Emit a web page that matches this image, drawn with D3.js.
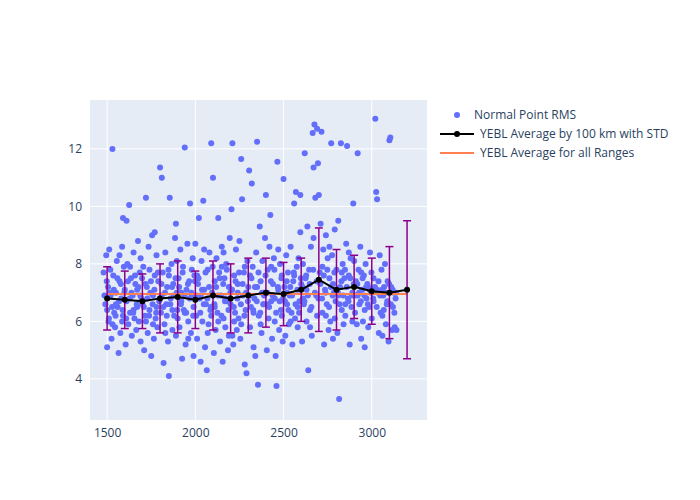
<!DOCTYPE html>
<html lang="en">
<head>
<meta charset="UTF-8">
<title>YEBL RMS</title>
<style>
  body,html{margin:0;padding:0;background:#fff;font-family:"Open Sans",Arial,sans-serif;}
</style>
</head>
<body>
<svg id="svg" width="700" height="500"></svg>
<script src="https://cdnjs.cloudflare.com/ajax/libs/d3/7.8.5/d3.min.js"></script>
<script>
// normal point RMS, [range km, rms]
var points = [
 [1480,7.7],[1490,6.6],[1495,8.3],[1500,5.1],[1505,7.2],[1510,6.1],[1512,8.5],[1520,6.9],[1525,5.4],[1530,12.0],[1535,7.6],[1540,6.3],[1545,5.8],[1550,7.0],[1555,8.1],[1560,6.5],[1565,4.9],[1570,7.4],[1575,5.6],[1580,6.8],[1585,8.6],[1590,6.2],[1595,7.9],[1500,6.4],[1515,7.0],[1530,5.9],[1550,6.6],[1570,8.3],[1585,6.0],[1590,9.6],
 [1600,7.1],[1605,5.2],[1610,6.7],[1615,8.0],[1620,5.9],[1625,10.05],[1630,6.3],[1635,7.5],[1640,5.5],[1645,6.9],[1650,8.4],[1655,6.1],[1660,7.3],[1665,5.7],[1670,6.5],[1675,8.8],[1680,6.0],[1685,7.7],[1690,5.3],[1695,6.8],[1610,9.5],[1630,7.9],[1650,6.4],[1670,7.1],[1690,8.2],
 [1700,6.6],[1705,7.9],[1710,5.0],[1715,6.2],[1720,10.3],[1725,7.2],[1730,5.6],[1735,8.6],[1740,6.4],[1745,7.0],[1750,4.8],[1755,9.0],[1760,6.9],[1765,5.4],[1770,7.6],[1775,6.1],[1780,8.3],[1785,5.8],[1790,7.4],[1795,6.7],[1720,6.0],[1740,7.8],[1760,5.9],[1780,6.5],[1770,9.1],
 [1800,11.35],[1805,6.3],[1810,11.0],[1815,7.7],[1820,4.55],[1825,5.9],[1830,8.4],[1835,6.6],[1840,7.2],[1845,5.3],[1850,4.1],[1855,10.3],[1860,6.8],[1865,8.0],[1870,5.7],[1875,7.3],[1880,6.2],[1885,8.9],[1890,5.5],[1895,7.0],[1810,6.9],[1830,5.6],[1850,7.6],[1870,6.4],[1890,9.4],[1895,8.1],
 [1900,6.1],[1905,7.5],[1910,5.8],[1915,8.5],[1920,6.7],[1925,4.7],[1930,7.9],[1935,6.4],[1940,12.05],[1945,5.2],[1950,7.1],[1955,8.7],[1960,6.0],[1965,7.4],[1970,10.1],[1975,5.6],[1980,6.9],[1985,8.2],[1990,4.8],[1995,7.6],[1920,7.0],[1940,6.3],[1960,5.4],[1980,7.8],[1990,6.5],
 [2000,8.7],[2005,6.2],[2010,5.4],[2015,7.3],[2020,9.6],[2025,6.8],[2030,4.6],[2035,8.1],[2040,6.0],[2045,10.2],[2050,7.1],[2055,5.1],[2060,6.6],[2065,4.3],[2070,7.8],[2075,5.9],[2080,8.4],[2085,6.4],[2090,12.2],[2095,7.0],[2010,7.6],[2030,6.9],[2050,8.5],[2070,5.6],[2090,6.2],[2100,11.0],
 [2105,4.9],[2110,7.4],[2115,5.7],[2120,8.2],[2125,6.3],[2130,9.6],[2135,7.7],[2140,5.3],[2145,6.9],[2150,8.6],[2155,4.6],[2160,6.1],[2165,7.5],[2170,5.8],[2175,8.0],[2180,6.7],[2185,5.0],[2190,7.2],[2195,8.9],[2110,6.5],[2130,6.0],[2150,7.9],[2170,6.8],[2190,5.5],[2160,8.4],
 [2200,6.6],[2205,9.9],[2210,12.2],[2215,5.2],[2220,7.6],[2225,6.3],[2230,8.5],[2235,5.7],[2240,7.0],[2245,6.1],[2250,8.8],[2255,5.4],[2260,11.65],[2265,10.25],[2270,6.9],[2275,7.7],[2280,4.5],[2285,6.4],[2290,4.2],[2295,8.1],[2220,6.0],[2240,7.3],[2260,5.9],[2280,7.9],[2210,5.5],
 [2300,7.2],[2305,11.25],[2310,5.8],[2315,6.5],[2320,10.8],[2325,7.9],[2330,5.1],[2335,6.8],[2340,4.8],[2345,8.4],[2350,12.25],[2355,3.8],[2360,6.2],[2365,9.3],[2370,7.4],[2375,5.6],[2380,8.1],[2385,6.6],[2390,7.0],[2395,8.9],[2310,7.6],[2330,6.3],[2350,7.2],[2370,5.9],[2390,6.9],
 [2400,10.4],[2405,5.0],[2410,7.8],[2415,6.1],[2420,8.6],[2425,9.7],[2430,6.7],[2435,5.4],[2440,7.3],[2445,8.2],[2450,6.0],[2455,4.8],[2460,3.75],[2465,11.55],[2470,7.1],[2475,5.7],[2480,8.0],[2485,6.4],[2490,7.6],[2495,5.3],[2410,6.6],[2430,7.9],[2450,6.8],[2470,8.5],[2490,6.2],
 [2500,10.95],[2505,7.2],[2510,5.5],[2515,8.3],[2520,6.6],[2525,7.7],[2530,5.9],[2535,6.9],[2540,8.6],[2545,6.3],[2550,5.2],[2555,7.4],[2560,10.1],[2565,6.1],[2570,10.5],[2575,7.9],[2580,5.8],[2585,8.2],[2590,6.7],[2595,10.4],[2520,7.0],[2540,6.0],[2560,7.6],[2580,6.5],[2595,9.1],
 [2600,7.3],[2605,5.3],[2610,8.0],[2615,6.6],[2620,11.85],[2625,7.5],[2630,6.0],[2635,9.3],[2640,4.3],[2645,7.8],[2650,6.4],[2655,8.6],[2660,5.5],[2665,12.55],[2670,11.35],[2675,12.85],[2680,10.3],[2685,6.9],[2690,12.7],[2695,11.5],[2610,6.8],[2630,7.1],[2650,5.8],[2670,8.9],[2690,6.2],
 [2700,10.4],[2705,7.7],[2710,9.4],[2715,12.6],[2720,6.3],[2725,8.5],[2730,5.2],[2735,7.1],[2740,9.0],[2745,6.6],[2750,8.2],[2755,5.7],[2760,7.5],[2765,6.0],[2770,12.2],[2775,8.3],[2780,5.4],[2785,7.0],[2790,9.2],[2795,6.7],[2720,7.9],[2740,6.2],[2760,8.6],[2780,7.3],[2790,6.1],
 [2800,7.8],[2805,5.6],[2810,9.5],[2815,3.3],[2820,7.2],[2825,12.2],[2830,6.4],[2835,8.0],[2840,5.9],[2845,7.5],[2850,6.2],[2855,8.7],[2860,12.1],[2865,6.8],[2870,7.6],[2875,5.2],[2880,8.2],[2885,6.5],[2890,7.0],[2895,10.1],[2810,6.9],[2830,7.7],[2850,6.6],[2870,8.4],[2890,6.0],
 [2900,8.1],[2905,6.3],[2910,7.4],[2915,5.9],[2920,11.85],[2925,7.8],[2930,6.6],[2935,8.6],[2940,5.4],[2945,7.1],[2950,6.0],[2955,7.6],[2960,5.1],[2965,8.0],[2970,6.8],[2975,7.3],[2980,5.8],[2985,6.5],[2990,8.4],[2995,7.0],[2920,6.9],[2940,7.7],[2960,6.4],[2980,7.2],
 [3000,6.1],[3010,7.5],[3020,13.05],[3025,10.5],[3030,10.25],[3035,7.0],[3040,5.6],[3045,8.3],[3050,6.3],[3055,7.8],[3060,5.5],[3065,6.9],[3070,7.2],[3075,8.0],[3080,5.9],[3085,6.6],[3090,7.4],[3095,5.3],[3010,6.7],[3030,7.1],[3060,6.2],
 [3100,12.3],[3105,12.4],[3110,7.2],[3115,5.7],[3120,6.5],[3125,7.0],[3130,5.8],[3135,6.8],[3140,5.7]
];
// extra points in the dense core
var corePoints = [
 [1485,6.9],[1498,7.4],[1508,6.0],[1518,7.8],[1528,6.5],[1538,7.1],[1548,6.2],[1558,7.5],[1568,6.7],[1578,7.3],[1588,6.4],[1598,7.0],
 [1608,6.1],[1618,7.4],[1628,6.8],[1638,7.0],[1648,6.3],[1658,7.6],[1668,6.6],[1678,7.2],[1688,6.9],[1698,7.5],
 [1708,6.5],[1718,7.3],[1728,6.8],[1738,6.2],[1748,7.4],[1758,6.6],[1768,7.1],[1778,6.3],[1788,7.7],[1798,6.8],
 [1808,7.3],[1818,6.5],[1828,7.0],[1838,6.2],[1848,7.8],[1858,6.6],[1868,7.2],[1878,6.9],[1888,7.5],[1898,6.4],
 [1908,7.2],[1918,6.6],[1928,7.7],[1938,6.9],[1948,6.3],[1958,7.3],[1968,6.8],[1978,7.0],[1988,6.2],[1998,7.4],
 [2008,6.9],[2018,7.5],[2028,6.3],[2038,7.1],[2048,6.6],[2058,7.7],[2068,6.8],[2078,7.2],[2088,6.5],[2098,7.9],
 [2108,6.6],[2118,7.2],[2128,6.9],[2138,7.5],[2148,6.2],[2158,7.3],[2168,6.7],[2178,7.8],[2188,6.4],[2198,7.0],
 [2208,7.1],[2218,6.5],[2228,7.4],[2238,6.8],[2248,7.7],[2258,6.6],[2268,7.3],[2278,6.2],[2288,7.0],[2298,6.7],
 [2308,6.9],[2318,7.5],[2328,6.4],[2338,7.2],[2348,6.7],[2358,7.7],[2368,6.3],[2378,7.0],[2388,6.6],[2398,7.6],
 [2408,7.0],[2418,6.5],[2428,7.4],[2438,6.9],[2448,7.8],[2458,6.3],[2468,7.2],[2478,6.7],[2488,7.5],[2498,6.8],
 [2508,6.7],[2518,7.4],[2528,6.4],[2538,7.2],[2548,6.9],[2558,7.7],[2568,6.6],[2578,7.1],[2588,6.3],[2598,7.5],
 [2608,7.2],[2618,6.7],[2628,7.6],[2638,6.9],[2648,7.3],[2658,6.5],[2668,7.8],[2678,7.0],[2688,7.4],[2698,6.8],
 [2708,7.3],[2718,6.8],[2728,7.6],[2738,7.0],[2748,7.8],[2758,6.5],[2768,7.2],[2778,6.9],[2788,7.7],[2798,7.1],
 [2808,7.0],[2818,6.6],[2828,7.4],[2838,6.9],[2848,7.8],[2858,7.2],[2868,6.7],[2878,7.5],[2888,6.9],[2898,7.3],
 [2908,6.9],[2918,7.3],[2928,7.0],[2938,6.7],[2948,7.5],[2958,6.9],[2968,7.2],[2978,6.6],[2988,7.1],[2998,7.7],
 [3008,6.8],[3018,7.2],[3028,6.5],[3038,7.4],[3048,6.9],[3058,7.1],[3068,6.4],[3078,7.0],[3088,6.7],[3098,7.3],
 [3108,6.6],[3118,7.1],[3128,6.3],[3138,7.0]
];
var bins = [1500,1600,1700,1800,1900,2000,2100,2200,2300,2400,2500,2600,2700,2800,2900,3000,3100,3200];
var binMean = [6.8,6.75,6.7,6.8,6.85,6.75,6.9,6.8,6.9,7.0,6.95,7.1,7.45,7.1,7.2,7.05,7.0,7.1];
var binStd = [1.1,1.0,0.95,1.2,1.25,1.0,1.2,1.2,1.3,1.2,1.1,1.1,1.8,1.4,1.1,1.15,1.6,2.4];
var overallMean = 6.95;
var xTicks = [1500,2000,2500,3000];
var yTicks = [4,6,8,10,12];

var svg = d3.select("#svg");
var m = {l:90, r:273, t:100, b:80};
var W = 700 - m.l - m.r, H = 500 - m.t - m.b;
var x = d3.scaleLinear().domain([1403,3313]).range([0,W]);
var y = d3.scaleLinear().domain([2.57,13.7]).range([H,0]);
var g = svg.append("g").attr("transform","translate("+m.l+","+m.t+")");
g.append("rect").attr("width",W).attr("height",H).attr("fill","#e5ecf6");

g.append("g").selectAll("line").data(xTicks).enter().append("line")
  .attr("x1",x).attr("x2",x).attr("y1",0).attr("y2",H).attr("stroke","#fff");
g.append("g").selectAll("line").data(yTicks).enter().append("line")
  .attr("y1",y).attr("y2",y).attr("x1",0).attr("x2",W).attr("stroke","#fff");

var xa = g.append("g").attr("transform","translate(0,"+H+")")
  .call(d3.axisBottom(x).tickValues(xTicks).tickFormat(d3.format("d")).tickSize(0).tickPadding(8));
var ya = g.append("g").call(d3.axisLeft(y).tickValues(yTicks).tickSize(0).tickPadding(8));
[xa,ya].forEach(function(a){
  a.select(".domain").remove();
  a.selectAll("text").attr("font-size",12).attr("fill","#2a3f5f").attr("font-family","'Open Sans',Arial,sans-serif");
});

g.append("g").selectAll("circle").data(points.concat(corePoints)).enter().append("circle")
  .attr("cx",function(d){return x(d[0]);}).attr("cy",function(d){return y(d[1]);})
  .attr("r",3).attr("fill","#636efa");

g.append("line").attr("x1",x(bins[0])).attr("x2",x(bins[bins.length-1]))
  .attr("y1",y(overallMean)).attr("y2",y(overallMean)).attr("stroke","#ff7f50").attr("stroke-width",2);

var eb = g.append("g").attr("stroke","#8b008b").attr("stroke-width",1.5);
bins.forEach(function(b,i){
  var lo = y(binMean[i]-binStd[i]), hi = y(binMean[i]+binStd[i]), cx = x(b);
  eb.append("line").attr("x1",cx).attr("x2",cx).attr("y1",lo).attr("y2",hi);
  eb.append("line").attr("x1",cx-4).attr("x2",cx+4).attr("y1",lo).attr("y2",lo);
  eb.append("line").attr("x1",cx-4).attr("x2",cx+4).attr("y1",hi).attr("y2",hi);
});
var line = d3.line().x(function(d,i){return x(bins[i]);}).y(function(d){return y(d);});
g.append("path").datum(binMean).attr("d",line).attr("fill","none").attr("stroke","#000").attr("stroke-width",2);
g.append("g").selectAll("circle").data(binMean).enter().append("circle")
  .attr("cx",function(d,i){return x(bins[i]);}).attr("cy",y).attr("r",3).attr("fill","#000");

var lg = svg.append("g").attr("transform","translate(440,115)").attr("font-size",12).attr("fill","#2a3f5f");
lg.append("circle").attr("cx",17).attr("cy",0).attr("r",3).attr("fill","#636efa");
lg.append("text").attr("x",34).attr("y",4).text("Normal Point RMS");
lg.append("line").attr("x1",0).attr("x2",34).attr("y1",19).attr("y2",19).attr("stroke","#000").attr("stroke-width",2);
lg.append("circle").attr("cx",17).attr("cy",19).attr("r",3).attr("fill","#000");
lg.append("text").attr("x",40).attr("y",23).text("YEBL Average by 100 km with STD");
lg.append("line").attr("x1",0).attr("x2",34).attr("y1",38).attr("y2",38).attr("stroke","#ff7f50").attr("stroke-width",2);
lg.append("text").attr("x",40).attr("y",42).text("YEBL Average for all Ranges");
</script>
</body>
</html>
